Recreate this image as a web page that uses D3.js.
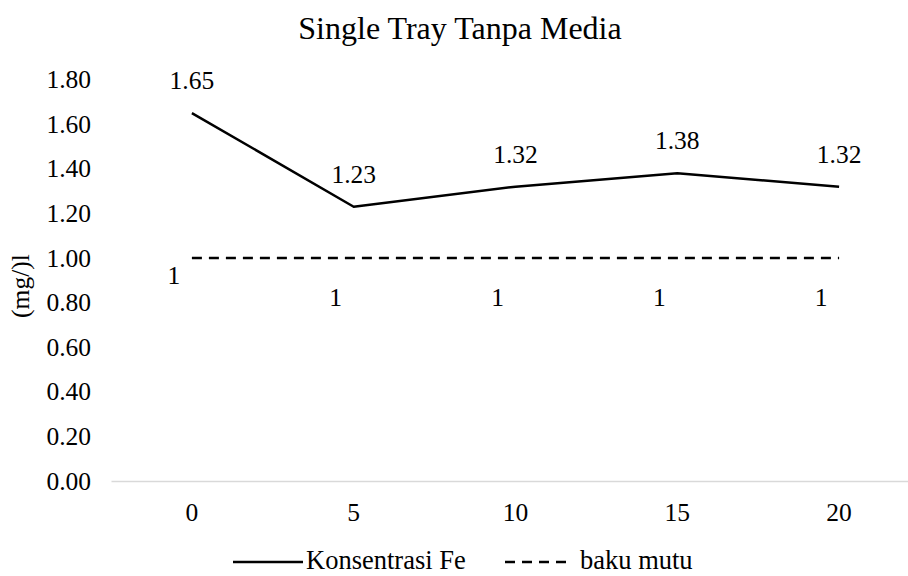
<!DOCTYPE html>
<html>
<head>
<meta charset="utf-8">
<script src="https://cdn.jsdelivr.net/npm/d3@7"></script>
<style>
  body { margin: 0; background: #fff; }
  svg text { font-family: "Liberation Serif", "Times New Roman", serif; fill: #000; }
</style>
</head>
<body>
<div id="chart"></div>
<script>
const categories = ["0", "5", "10", "15", "20"];
const konsentrasiFe = [1.65, 1.23, 1.32, 1.38, 1.32];
const bakuMutu = [1, 1, 1, 1, 1];
const yTicks = [0, 0.2, 0.4, 0.6, 0.8, 1.0, 1.2, 1.4, 1.6, 1.8];

const width = 908, height = 576;
const serif = "'Liberation Serif', 'Times New Roman', serif";

const svg = d3.select("#chart")
  .append("svg")
  .attr("width", width)
  .attr("height", height)
  .attr("font-family", serif);

const x = d3.scaleBand().domain(categories).range([111, 920]);
const y = d3.scaleLinear().domain([0, 1.8]).range([481, 79.6]);
const cx = (d) => x(d) + x.bandwidth() / 2;

// title
svg.append("text")
  .attr("x", 460)
  .attr("y", 39)
  .attr("text-anchor", "middle")
  .style("font-size", "32px")
  .text("Single Tray Tanpa Media");

// y axis labels
const yAxis = svg.append("g")
  .attr("transform", "translate(91,0)")
  .call(d3.axisLeft(y).tickValues(yTicks).tickFormat(d3.format(".2f")).tickSize(0).tickPadding(0));
yAxis.attr("font-family", serif);
yAxis.select(".domain").remove();
yAxis.selectAll("text")
  .style("font-size", "25.5px")
  .attr("fill", "#000");

// y title
svg.append("text")
  .attr("transform", "translate(29,286) rotate(-90)")
  .attr("text-anchor", "middle")
  .style("font-size", "25.5px")
  .text("(mg/)l");

// x axis
const xAxis = svg.append("g")
  .attr("transform", "translate(0,481)")
  .call(d3.axisBottom(x).tickSize(0).tickPadding(22));
xAxis.attr("font-family", serif);
xAxis.select(".domain").attr("stroke", "#d9d9d9").attr("stroke-width", 1.5);
xAxis.selectAll("text")
  .style("font-size", "25.5px")
  .attr("fill", "#000");

// baku mutu dashed
const lineBaku = d3.line().x((d, i) => cx(categories[i])).y((d) => y(d));
svg.append("path")
  .datum(bakuMutu)
  .attr("fill", "none")
  .attr("stroke", "#000")
  .attr("stroke-width", 2.5)
  .attr("stroke-dasharray", "10,7")
  .attr("d", lineBaku);

// Konsentrasi Fe
const lineFe = d3.line().x((d, i) => cx(categories[i])).y((d) => y(d));
svg.append("path")
  .datum(konsentrasiFe)
  .attr("fill", "none")
  .attr("stroke", "#000")
  .attr("stroke-width", 2.5)
  .attr("stroke-linejoin", "round")
  .attr("d", lineFe);

// labels Fe
svg.selectAll(".lblFe")
  .data(konsentrasiFe)
  .join("text")
  .attr("class", "lblFe")
  .attr("x", (d, i) => cx(categories[i]))
  .attr("y", (d) => y(d) - 24)
  .attr("text-anchor", "middle")
  .style("font-size", "25.5px")
  .text((d) => d.toFixed(2));

// labels baku mutu
svg.selectAll(".lblBaku")
  .data(bakuMutu)
  .join("text")
  .attr("class", "lblBaku")
  .attr("x", (d, i) => cx(categories[i]) - 18)
  .attr("y", (d, i) => y(d) + (i === 0 ? 26 : 48))
  .attr("text-anchor", "middle")
  .style("font-size", "25.5px")
  .text((d) => d);

// legend
const legend = svg.append("g");
legend.append("line")
  .attr("x1", 233).attr("x2", 303).attr("y1", 562).attr("y2", 562)
  .attr("stroke", "#000").attr("stroke-width", 2.5);
legend.append("text")
  .attr("x", 306).attr("y", 569)
  .style("font-size", "26.5px")
  .text("Konsentrasi Fe");
legend.append("line")
  .attr("x1", 505).attr("x2", 572).attr("y1", 562).attr("y2", 562)
  .attr("stroke", "#000").attr("stroke-width", 2.5)
  .attr("stroke-dasharray", "10,7");
legend.append("text")
  .attr("x", 580).attr("y", 569)
  .style("font-size", "26.5px")
  .text("baku mutu");
</script>
</body>
</html>
